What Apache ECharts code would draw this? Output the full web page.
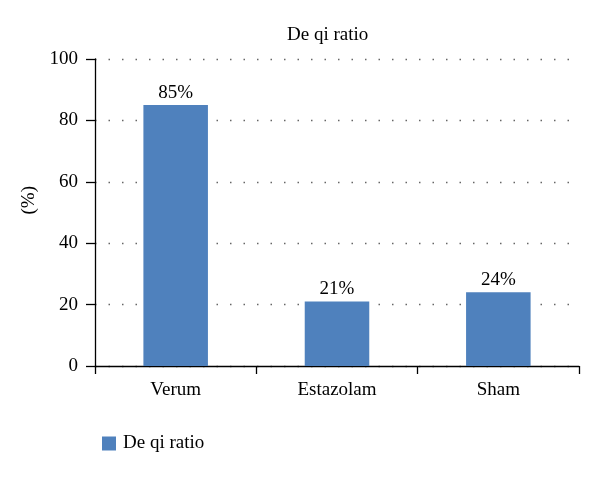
<!DOCTYPE html>
<html><head><meta charset="utf-8">
<script src="https://cdn.jsdelivr.net/npm/echarts@6/dist/echarts.min.js"></script>
<style>html,body{margin:0;padding:0;background:#fff}#c{width:600px;height:477px}</style>
</head><body><div id="c"></div>
<script>
const categories = ["Verum", "Estazolam", "Sham"];
const values = [85, 21, 24];
const seriesName = "De qi ratio";
const yTicks = [0, 20, 40, 60, 80, 100];
const FONT = "Liberation Serif";
const FS = 19;
const chart = echarts.init(document.getElementById('c'));
chart.setOption({
  animation: false,
  textStyle: { fontFamily: FONT },
  title: { text: "De qi ratio", left: 282, top: 21, 
    textStyle: { fontFamily: FONT, fontSize: FS, fontWeight: 'normal', color: '#000' } },
  graphic: [{ type: 'text', left: 20, top: 186, rotation: Math.PI/2, 
    style: { text: '(%)', fontFamily: FONT, fontSize: FS, fill: '#000' } }],
  grid: { left: 95, right: 21, top: 59, bottom: 111, containLabel: false },
  legend: { left: 97, top: 429, itemWidth: 14, itemHeight: 14, itemGap: 10, icon: 'rect',
    textStyle: { fontFamily: FONT, fontSize: FS, color: '#000', padding: [0,0,0,2] },
    data: [seriesName] },
  xAxis: { type: 'category', data: categories,
    axisLine: { lineStyle: { color: '#000', width: 1.3 } },
    axisTick: { show: true, alignWithLabel: false, length: 8, lineStyle: { color: '#000', width: 1.3 } },
    axisLabel: { color: '#000', fontFamily: FONT, fontSize: FS, margin: 15 } },
  yAxis: { type: 'value', min: yTicks[0], max: yTicks[yTicks.length-1], interval: 20,
    axisLine: { show: true, lineStyle: { color: '#000', width: 1.3 } },
    axisTick: { show: true, inside: false, length: 9, lineStyle: { color: '#000', width: 1.3 } },
    axisLabel: { color: '#000', fontFamily: FONT, fontSize: FS, margin: 17 },
    splitLine: { show: true, lineStyle: { color: '#666', type: [1.5, 12], width: 1.4 } } },
  series: [{ name: seriesName, type: 'bar', data: values, barWidth: '40%',
    itemStyle: { color: '#4f81bd' },
    label: { show: true, position: 'top', distance: 3, formatter: '{c}%', color: '#000', fontFamily: FONT, fontSize: FS } }]
});
</script></body></html>
